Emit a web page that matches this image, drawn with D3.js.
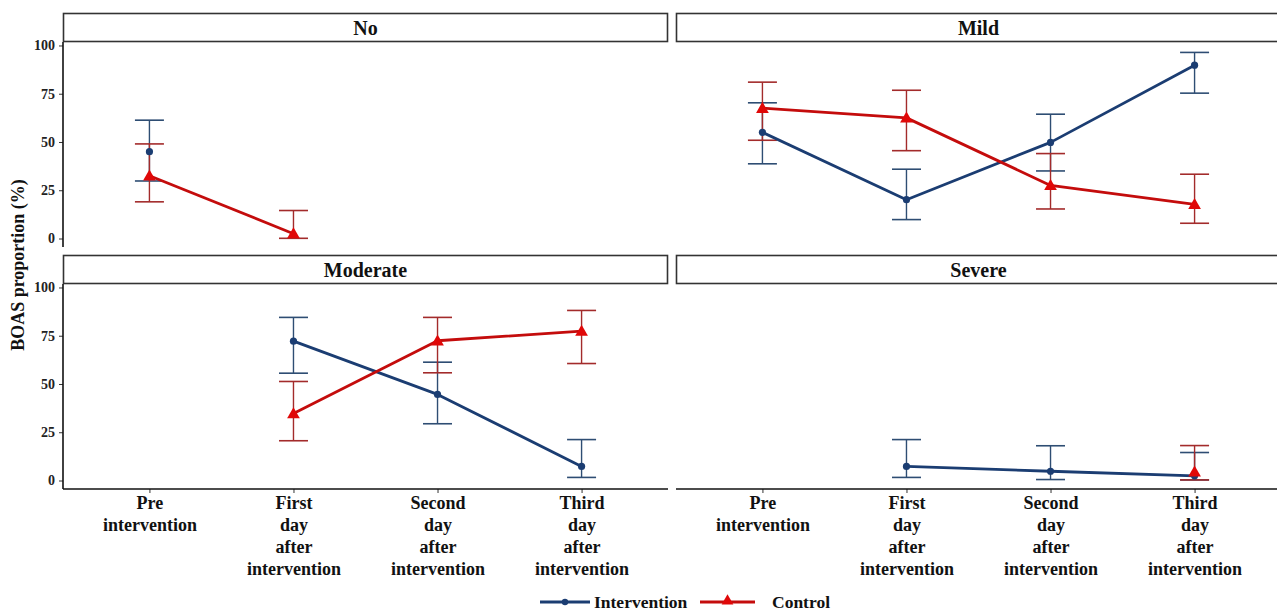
<!DOCTYPE html>
<html>
<head>
<meta charset="utf-8">
<script src="https://cdn.jsdelivr.net/npm/d3@7"></script>
<style>
  html, body { margin: 0; padding: 0; background: #fff; }
  svg { display: block; font-family: "Liberation Serif", "Times New Roman", serif; font-weight: bold; }
</style>
</head>
<body>
<svg id="chart" width="1277" height="613"></svg>
<script>
// ---------------- DATA ----------------
const categories = ["Pre intervention", "First day after intervention", "Second day after intervention", "Third day after intervention"];
const tickLabels = [["Pre", "intervention"], ["First", "day", "after", "intervention"], ["Second", "day", "after", "intervention"], ["Third", "day", "after", "intervention"]];
const panels = ["No", "Mild", "Moderate", "Severe"];
const seriesNames = ["Intervention", "Control"];
const yTicks = [0, 25, 50, 75, 100];

// rows follow the order of `panels`, columns follow `categories`
const interventionMean = [
  [45, null, null, null],
  [55, 20.1, 49.8, 89.8],
  [null, 72.2, 44.6, 7.3],
  [null, 7.3, 4.8, 2.4]
];
const interventionLow = [
  [29.8, null, null, null],
  [38.7, 9.8, 35, 75.3],
  [null, 55.6, 29.4, 1.6],
  [null, 1.6, 0.5, 0.3]
];
const interventionHigh = [
  [61.3, null, null, null],
  [70.3, 35.9, 64.4, 96.4],
  [null, 84.5, 61.3, 21.2],
  [null, 21.2, 18, 14.5]
];
const controlMean = [
  [32.5, 2.5, null, null],
  [67.5, 62.5, 27.5, 17.7],
  [null, 34.7, 72.4, 77.4],
  [null, null, null, 4.5]
];
const controlLow = [
  [19, 0.1, null, null],
  [50.9, 45.5, 15.3, 7.9],
  [null, 20.6, 55.8, 60.6],
  [null, null, null, 0.3]
];
const controlHigh = [
  [49, 14.5, null, null],
  [81, 76.8, 44, 33.3],
  [null, 51.3, 84.5, 88.1],
  [null, null, null, 18.1]
];

// ---------------- STYLE ----------------
const colors = {
  Intervention: { line: "#1b3d72", point: "#1b3d72", err: "#2e4d73" },
  Control: { line: "#c40c0c", point: "#e00808", err: "#a32b2b" }
};

const svg = d3.select("#chart");

const panelW = 605, panelH = 205, stripH = 29;
const colX = [63, 676];
const rowStripY = [13, 255];
const yDomain = [-4.4, 101.8];

const series = [
  { name: "Intervention", mean: interventionMean, lo: interventionLow, hi: interventionHigh },
  { name: "Control", mean: controlMean, lo: controlLow, hi: controlHigh }
];

panels.forEach((pname, pi) => {
  const col = pi % 2, row = Math.floor(pi / 2);
  const x0 = colX[col];
  const stripTop = rowStripY[row];
  const top = stripTop + stripH;
  const bottom = top + panelH;

  const x = d3.scalePoint().domain(categories).range([x0, x0 + panelW]).padding(0.6);
  const y = d3.scaleLinear().domain(yDomain).range([bottom, top]);

  const g = svg.append("g");

  // strip
  g.append("rect")
    .attr("x", x0 + 0.5).attr("y", stripTop + 0.5)
    .attr("width", panelW - 1).attr("height", stripH - 1)
    .attr("fill", "#fff").attr("stroke", "#333").attr("stroke-width", 1.6);
  g.append("text")
    .attr("x", x0 + panelW / 2).attr("y", stripTop + stripH / 2 + 7)
    .attr("text-anchor", "middle").attr("font-size", 20).attr("fill", "#111")
    .text(pname);

  // y axis on left column
  if (col === 0) {
    const ya = d3.axisLeft(y).tickValues(yTicks).tickSize(4).tickPadding(4);
    const yg = g.append("g").attr("transform", `translate(${x0},0)`).call(ya);
    yg.select(".domain").remove();
    yg.append("line").attr("x1", 0).attr("x2", 0).attr("y1", top).attr("y2", bottom)
      .attr("stroke", "#111").attr("stroke-width", 1.6);
    yg.selectAll(".tick line").attr("stroke", "#333").attr("stroke-width", 1);
    yg.selectAll(".tick text").attr("font-size", 14).attr("fill", "#222")
      .attr("font-family", "Liberation Serif, serif").attr("font-weight", "bold");
  }

  // x axis on bottom row
  if (row === 1) {
    const xa = d3.axisBottom(x).tickSize(4).tickFormat("");
    const xg = g.append("g").attr("transform", `translate(0,${bottom})`).call(xa);
    xg.select(".domain").remove();
    xg.append("line").attr("x1", x0).attr("x2", x0 + panelW).attr("y1", 0).attr("y2", 0)
      .attr("stroke", "#111").attr("stroke-width", 1.6);
    xg.selectAll(".tick line").attr("stroke", "#333").attr("stroke-width", 1);
    xg.selectAll(".tick").each(function (d, i) {
      const t = d3.select(this).append("text")
        .attr("text-anchor", "middle").attr("font-size", 18).attr("fill", "#111")
        .attr("font-family", "Liberation Serif, serif").attr("font-weight", "bold");
      tickLabels[i].forEach((ln, li) => {
        t.append("tspan").attr("x", 0).attr("y", 20 + li * 22).text(ln);
      });
    });
  }

  // error bars
  const capHalf = 14.5;
  series.forEach(s => {
    const c = colors[s.name];
    categories.forEach((cat, ci) => {
      const lo = s.lo[pi][ci], hi = s.hi[pi][ci];
      if (lo == null || hi == null) return;
      const cx = x(cat);
      g.append("line").attr("x1", cx).attr("x2", cx).attr("y1", y(lo)).attr("y2", y(hi))
        .attr("stroke", c.err).attr("stroke-width", 1.4);
      [lo, hi].forEach(v => {
        g.append("line").attr("x1", cx - capHalf).attr("x2", cx + capHalf)
          .attr("y1", y(v)).attr("y2", y(v))
          .attr("stroke", c.err).attr("stroke-width", 1.6);
      });
    });
  });

  // lines
  series.forEach(s => {
    const c = colors[s.name];
    const pts = categories.map((cat, ci) => ({ cat, v: s.mean[pi][ci] }));
    const line = d3.line().defined(d => d.v != null).x(d => x(d.cat)).y(d => y(d.v));
    g.append("path").datum(pts).attr("d", line)
      .attr("fill", "none").attr("stroke", c.line).attr("stroke-width", 2.8)
      .attr("stroke-linejoin", "round");
  });

  // points
  series.forEach(s => {
    const c = colors[s.name];
    categories.forEach((cat, ci) => {
      const v = s.mean[pi][ci];
      if (v == null) return;
      if (s.name === "Intervention") {
        g.append("circle").attr("cx", x(cat)).attr("cy", y(v)).attr("r", 3.6).attr("fill", c.point);
      } else {
        g.append("path").attr("d", d3.symbol(d3.symbolTriangle, 70)())
          .attr("transform", `translate(${x(cat)},${y(v) + 1})`).attr("fill", c.point);
      }
    });
  });
});

// y axis title
svg.append("text")
  .attr("transform", `translate(24,265) rotate(-90)`)
  .attr("text-anchor", "middle").attr("font-size", 18).attr("fill", "#111")
  .text("BOAS proportion (%)");

// legend
const legY = 602;
const leg = svg.append("g");
const legItems = [
  { name: "Intervention", x1: 540, x2: 590, tx: 594 },
  { name: "Control", x1: 700, x2: 755, tx: 772 }
];
legItems.forEach(it => {
  const c = colors[it.name];
  leg.append("line").attr("x1", it.x1).attr("x2", it.x2).attr("y1", legY).attr("y2", legY)
    .attr("stroke", c.line).attr("stroke-width", 2.8);
  const mx = (it.x1 + it.x2) / 2;
  if (it.name === "Intervention") {
    leg.append("circle").attr("cx", mx).attr("cy", legY).attr("r", 3.2).attr("fill", c.point);
  } else {
    leg.append("path").attr("d", d3.symbol(d3.symbolTriangle, 60)())
      .attr("transform", `translate(${mx},${legY - 1})`).attr("fill", c.point);
  }
  leg.append("text").attr("x", it.tx).attr("y", legY + 6)
    .attr("font-size", 17.5).attr("fill", "#111").text(it.name);
});
</script>
</body>
</html>
